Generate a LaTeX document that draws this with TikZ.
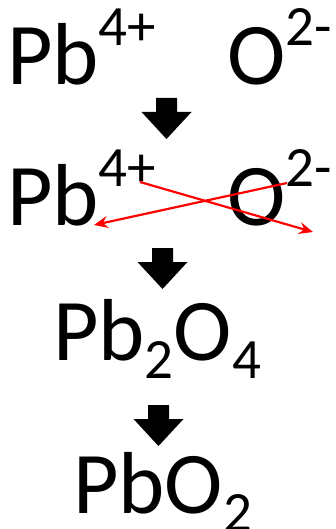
\documentclass[tikz,border=0pt]{standalone}
\usepackage{fontspec}
\setmainfont{Carlito}
\usetikzlibrary{arrows.meta}
\newcommand{\upidx}[1]{\raisebox{39pt}{\fontsize{57}{60}\selectfont #1}}
\newcommand{\dnidx}[1]{\raisebox{-18pt}{\fontsize{57}{60}\selectfont #1}}
\tikzset{
  chem/.style={inner sep=0pt, anchor=base west, font=\fontsize{88}{100}\selectfont},
  blockarrow/.style={fill=black, draw=none},
  swap/.style={draw=red, line width=2.2pt, -{Stealth[length=14pt,width=12pt,inset=5pt]}}
}
\begin{document}
\begin{tikzpicture}[x=1pt,y=-1pt]
\useasboundingbox (0,0) rectangle (335,529);
% row 1
\node[chem] (pb1) at (7,85) {Pb\upidx{4+}};
\node[chem] (o1) at (227,85) {O\upidx{2-}};
% row 2
\node[chem] (pb2) at (7,225) {Pb\upidx{4+}};
\node[chem] (o2) at (227,225) {O\upidx{2-}};
% row 3
\node[chem] (pb2o4) at (53,360) {Pb\dnidx{2}O\dnidx{4}};
% row 4
\node[chem] (pbo2) at (73,513) {PbO\dnidx{2}};
% block arrows
\foreach \cx/\ty [count=\i] in {166.5/98, 162.5/248, 158.5/405}{
  \fill[blockarrow] (\cx-10.5,\ty) -- (\cx+10.5,\ty) -- (\cx+10.5,\ty+14) -- (\cx+25,\ty+14)
     -- (\cx,\ty+41) -- (\cx-25,\ty+14) -- (\cx-10.5,\ty+14) -- cycle;
}
% red crossing arrows
\coordinate (a1s) at (140,182);
\coordinate (a1e) at (313,232);
\coordinate (a2s) at (287,183);
\coordinate (a2e) at (94,225);
\draw[swap] (a1s) -- (a1e);
\draw[swap] (a2s) -- (a2e);
\end{tikzpicture}
\end{document}
